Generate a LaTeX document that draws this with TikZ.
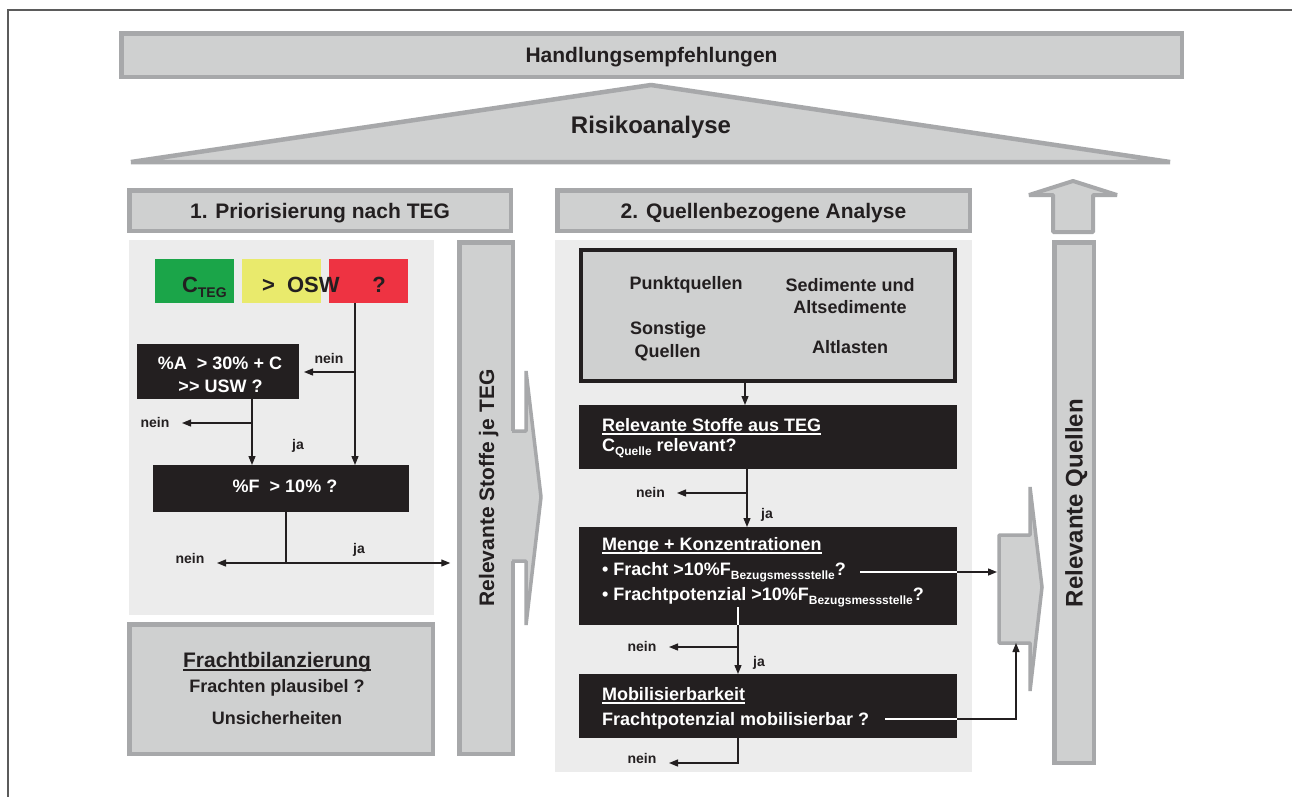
\documentclass[tikz,border=0pt]{standalone}
\usepackage{fontspec}
\setmainfont{Liberation Sans}
\usetikzlibrary{arrows.meta}
\definecolor{lg}{HTML}{CFD0D0}
\definecolor{bd}{HTML}{A7A8AA}
\definecolor{pn}{HTML}{ECECEC}
\definecolor{bk}{HTML}{231F20}
\definecolor{gr}{HTML}{1BA549}
\definecolor{ye}{HTML}{E9EA6C}
\definecolor{rd}{HTML}{EE3342}
\definecolor{fr}{HTML}{5B5B5B}
\newsavebox\ulbox
\newcommand\myul[1]{\sbox\ulbox{#1}\rlap{\rule[-3.5pt]{\wd\ulbox}{2pt}}\usebox\ulbox}
\newcommand\fsz[1]{\fontsize{#1}{#1}\selectfont}
\newcommand\lowsub[2]{\raisebox{-4.5pt}{\fsz{#1}#2}}
\tikzset{
  gbox/.style={draw=bd, fill=lg, line width=4.5pt, inner sep=0pt, outer sep=0pt},
  bbox/.style={fill=bk, inner sep=0pt, outer sep=0pt},
  cbox/.style={inner sep=0pt, outer sep=0pt},
  pnl/.style={fill=pn, inner sep=0pt, outer sep=0pt},
  conn/.style={draw=bk, line width=1.3pt},
  wconn/.style={draw=white, line width=1.3pt},
  arr/.style={conn, -{Triangle[length=9pt,width=7pt]}},
  tx/.style={inner sep=0pt, outer sep=0pt, anchor=base, text=bk},
  s14/.style={tx, font=\bfseries\fsz{14}},
  s18/.style={tx, font=\bfseries\fsz{18}},
  s21/.style={tx, font=\bfseries\fsz{21}},
  s22/.style={tx, font=\bfseries\fsz{22}},
  s24/.style={tx, font=\bfseries\fsz{24}},
  wt/.style={text=white},
  shapeline/.style={draw=bd, line width=3.5pt, line join=bevel},
}
\begin{document}
\begin{tikzpicture}[x=1pt,y=-1pt]
\useasboundingbox (0,0) rectangle (1292,796);
\fill[white] (0,0) rectangle (1292,796);
\draw[fr, line width=2.6pt] (8,800) -- (8,10) -- (1296,10);

% panels
\node[pnl, minimum width=305, minimum height=375] (lp) at (281.5,427.5) {};
\node[pnl, minimum width=417, minimum height=532] (rp) at (763.5,506) {};

% top boxes
\node[gbox, minimum width=1060.5, minimum height=43.5] (hand) at (651.5,55) {};
\draw[gbox, line join=bevel] (131,162) -- (651,85) -- (1170,162) -- cycle;
\node[gbox, minimum width=381.5, minimum height=40.5] (h1) at (320,210.5) {};
\node[gbox, minimum width=412.5, minimum height=40.5] (h2) at (763.5,210.5) {};

% up arrow
\draw[gbox, line width=4pt, line join=bevel] (1053,232) -- (1053,195) -- (1029,195) -- (1073,181) -- (1117,195) -- (1093,195) -- (1093,232) -- cycle;

% columns
\node[gbox, minimum width=53.5, minimum height=511.5] (col1) at (486,498) {};
\node[gbox, minimum width=39.5, minimum height=520.5] (col2) at (1074,502.5) {};

% arrow out of column 1
\fill[lg] (511,431) -- (526,431) -- (526,371) -- (541,497) -- (526,625) -- (526,561) -- (511,561) -- cycle;
\draw[shapeline] (512,431) -- (526,431) -- (526,371) -- (541,497) -- (526,625) -- (526,561) -- (512,561);

% stub arrow into column 2
\node[cbox, minimum width=33, minimum height=108] (stub) at (1013.5,589) {};
\draw[shapeline, fill=lg] (999,535) -- (1030,535) -- (1030,487) -- (1042,587) -- (1030,691) -- (1030,643) -- (999,643) -- cycle;

% Frachtbilanzierung
\node[gbox, minimum width=303.5, minimum height=129.5] (fb) at (281,689) {};

% colour boxes
\node[cbox, fill=gr, minimum width=79, minimum height=44] (green) at (194.5,281) {};
\node[cbox, fill=ye, minimum width=79, minimum height=44] (yellow) at (281.5,281) {};
\node[cbox, fill=rd, minimum width=79, minimum height=44] (red) at (368.5,281) {};

% black boxes left
\node[bbox, minimum width=162, minimum height=55] (A) at (218,371.5) {};
\node[bbox, minimum width=256, minimum height=47] (F) at (281,488.5) {};

% right side boxes
\node[cbox, draw=bk, fill=lg, line width=4pt, minimum width=374, minimum height=131] (src) at (768,315.5) {};
\node[bbox, minimum width=378, minimum height=64] (rel) at (768,437) {};
\node[bbox, minimum width=378, minimum height=98] (menge) at (768,576) {};
\node[bbox, minimum width=378, minimum height=64] (mob) at (768,706) {};

% connectors left
\coordinate (j1) at (355,372);
\draw[arr] (red.south -| j1) -- (F.north -| j1);
\draw[arr, shorten >=5pt] (j1) -- (A.east |- j1);
\coordinate (j2) at (252,423);
\coordinate (n2) at (182,423);
\draw[arr] (A.south -| j2) -- (F.north -| j2);
\draw[arr] (j2) -- (n2);
\coordinate (j3) at (286,563);
\coordinate (n3) at (217,563);
\draw[conn] (F.south -| j3) -- (j3);
\draw[arr] (j3) -- (n3);
\draw[arr, shorten >=9pt] (j3) -- (col1.west |- j3);

% connectors right
\coordinate (xa) at (745,0);
\draw[arr] (src.south -| xa) -- (rel.north -| xa);
\coordinate (j4) at (747,493);
\coordinate (n4) at (677,493);
\draw[arr] (rel.south -| j4) -- (menge.north -| j4);
\draw[arr] (j4) -- (n4);
\coordinate (w5) at (738,607);
\coordinate (j5) at (738,647);
\coordinate (n5) at (669,647);
\draw[wconn] (w5) -- (menge.south -| j5);
\draw[arr] (menge.south -| j5) -- (mob.north -| j5);
\draw[arr] (j5) -- (n5);
\coordinate (k6) at (738,763);
\coordinate (n6) at (669,763);
\draw[arr] (mob.south -| k6) -- (k6) -- (n6);
\coordinate (w7) at (860,572);
\draw[wconn] (w7) -- (menge.east |- w7);
\draw[arr] (menge.east |- w7) -- (stub.west |- w7);
\coordinate (w8) at (885,719);
\coordinate (c8) at (1016,719);
\draw[wconn] (w8) -- (mob.east |- w8);
\draw[arr] (mob.east |- w8) -- (c8) -- (stub.south -| c8);

% texts
\node[s21] at (651.5,62.5) {Handlungsempfehlungen};
\node[s24] at (651,133.5) {Risikoanalyse};
\node[s21] at (320,218.5) {1. Priorisierung nach TEG};
\node[s21] at (763.5,218.5) {2. Quellenbezogene Analyse};
\node[s21, rotate=90] at (494,488) {Relevante Stoffe je TEG};
\node[s24, rotate=90] at (1082.5,503) {Relevante Quellen};

\node[s22, anchor=base west] at (182,292.5) {C\lowsub{14}{TEG}};
\node[s22, anchor=base west] at (262,292.5) {>\ \ OSW};
\node[s22] at (379,292.5) {?};

\node[s14] at (329,363) {nein};
\node[s18, wt] at (220,369) {\%A\ \ > 30\% + C};
\node[s18, wt] at (220.5,392) {>\kern0pt> USW ?};
\node[s14] at (155,427) {nein};
\node[s14] at (298,449) {ja};
\node[s18, wt] at (285,492) {\%F\ \ > 10\% ?};
\node[s14] at (190,563.5) {nein};
\node[s14] at (359,553) {ja};

\node[s21] at (277,667) {\myul{Frachtbilanzierung}};
\node[s18] at (277,692) {Frachten plausibel ?};
\node[s18] at (277,724) {Unsicherheiten};

\node[s18] at (686,289.5) {Punktquellen};
\node[s18] at (850,291.5) {Sedimente und};
\node[s18] at (850,313.5) {Altsedimente};
\node[s18] at (668,334) {Sonstige};
\node[s18] at (667.5,357) {Quellen};
\node[s18] at (850,353) {Altlasten};

\node[s18, wt, anchor=base west] at (602,431) {\myul{Relevante Stoffe aus TEG}};
\node[s18, wt, anchor=base west] at (602,451) {C\lowsub{12}{Quelle} relevant?};
\node[s14] at (650.5,497) {nein};
\node[s14] at (767,518) {ja};
\node[s18, wt, anchor=base west] at (602,550) {\myul{Menge + Konzentrationen}};
\node[s18, wt, anchor=base west] at (602,575) {\textbullet\ Fracht >10\%F\lowsub{12}{Bezugsmessstelle}?};
\node[s18, wt, anchor=base west] at (602,600) {\textbullet\ Frachtpotenzial >10\%F\lowsub{12}{Bezugsmessstelle}?};
\node[s14] at (906.5,562) {ja};
\node[s14] at (642,651) {nein};
\node[s14] at (759,666) {ja};
\node[s18, wt, anchor=base west] at (602,700.5) {\myul{Mobilisierbarkeit}};
\node[s18, wt, anchor=base west] at (602,725) {Frachtpotenzial mobilisierbar ?};
\node[s14] at (933,710) {ja};
\node[s14] at (642,763) {nein};
\end{tikzpicture}
\end{document}
